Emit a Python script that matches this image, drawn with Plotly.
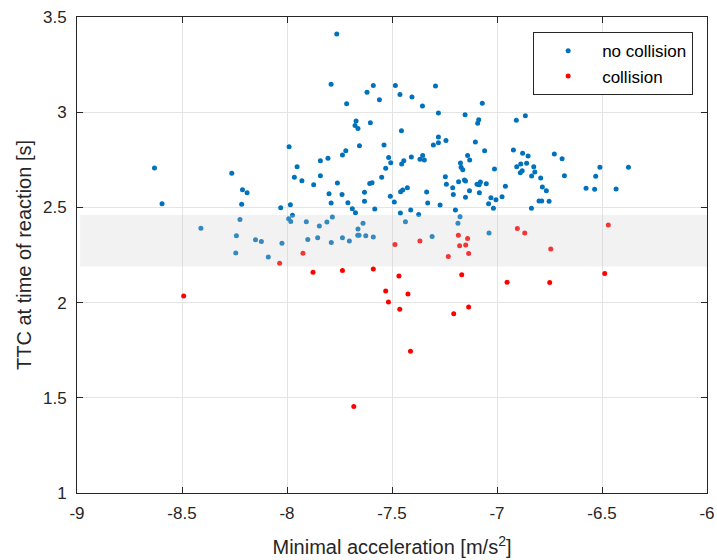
import plotly.graph_objects as go

blue_x = [-8.631, -8.263, -7.990, -7.952, -7.965, -7.763, -7.790, -7.589, -7.619, -7.560,
          -7.716, -7.484, -7.462, -7.405, -7.293, -7.355, -7.279, -7.070, -7.152, -7.087,
          -7.092, -7.671, -7.676, -7.662, -7.603, -7.455, -7.279, -7.279, -7.243, -7.303,
          -7.103, -7.059, -7.655, -7.538, -7.720, -7.736, -7.805, -7.841, -7.841, -7.929,
          -7.516, -7.506, -7.530, -7.549, -7.454, -7.444, -7.408, -7.354, -7.367, -7.346,
          -7.246, -7.174, -7.171, -7.163, -7.140, -7.130, -7.155, -7.012, -6.908, -6.865,
          -6.922, -6.878, -6.852, -6.727, -6.690, -6.906, -6.887, -6.859, -6.825, -6.820,
          -6.880, -6.889, -6.835, -6.792, -6.679, -6.530, -6.510, -6.374, -8.212, -8.190,
          -8.595, -8.216, -8.030, -7.984, -7.974, -7.992, -7.982, -8.224, -8.410, -8.241,
          -8.150, -8.122, -8.024, -8.244, -8.089, -7.873, -7.760, -7.800, -7.738, -7.790,
          -7.710, -7.689, -7.674, -7.631, -7.631, -7.606, -7.595, -7.582, -7.508, -7.489,
          -7.459, -7.449, -7.427, -7.460, -7.411, -7.373, -7.335, -7.330, -7.271, -7.241,
          -7.211, -7.183, -7.150, -7.208, -7.131, -7.150, -7.095, -7.085, -7.079, -7.051,
          -7.084, -7.029, -7.005, -7.040, -7.017, -7.198, -7.176, -7.186, -7.038, -7.436,
          -7.309, -7.908, -7.846, -7.810, -7.784, -7.901, -7.854, -7.789, -7.736, -7.703,
          -7.662, -7.638, -7.663, -7.657, -7.625, -7.589, -6.960, -6.976, -6.784, -6.765,
          -6.800, -6.787, -6.752, -6.836, -6.576, -6.535, -6.433]
blue_y = [2.707, 2.680, 2.819, 2.714, 2.659, 3.411, 3.147, 3.140, 3.105, 3.065,
          3.045, 3.140, 3.093, 3.080, 3.138, 3.033, 2.996, 3.047, 2.986, 2.961,
          2.942, 2.954, 2.930, 2.914, 2.945, 2.902, 2.870, 2.840, 2.851, 2.828,
          2.844, 2.798, 2.824, 2.828, 2.798, 2.775, 2.758, 2.745, 2.666, 2.640,
          2.762, 2.735, 2.705, 2.659, 2.728, 2.745, 2.765, 2.772, 2.753, 2.749,
          2.661, 2.733, 2.711, 2.698, 2.772, 2.749, 2.644, 2.702, 2.958, 2.981,
          2.802, 2.784, 2.770, 2.781, 2.756, 2.714, 2.728, 2.732, 2.714, 2.686,
          2.693, 2.682, 2.665, 2.654, 2.666, 2.663, 2.711, 2.711, 2.593, 2.577,
          2.519, 2.516, 2.498, 2.514, 2.459, 2.440, 2.426, 2.437, 2.391, 2.351,
          2.330, 2.321, 2.312, 2.261, 2.240, 2.619, 2.628, 2.572, 2.568, 2.523,
          2.524, 2.493, 2.472, 2.579, 2.532, 2.626, 2.629, 2.491, 2.559, 2.529,
          2.582, 2.591, 2.603, 2.470, 2.487, 2.463, 2.581, 2.523, 2.512, 2.621,
          2.603, 2.635, 2.639, 2.568, 2.587, 2.553, 2.621, 2.619, 2.633, 2.624,
          2.577, 2.551, 2.540, 2.519, 2.496, 2.487, 2.451, 2.417, 2.366, 2.424,
          2.347, 2.424, 2.402, 2.423, 2.449, 2.331, 2.340, 2.316, 2.340, 2.324,
          2.386, 2.417, 2.354, 2.354, 2.351, 2.345, 2.611, 2.556, 2.607, 2.587,
          2.533, 2.533, 2.532, 2.496, 2.600, 2.595, 2.596]

red_x = [-8.035, -8.492, -7.924, -7.876, -7.736, -7.589, -7.486, -7.367, -7.467, -7.530,
         -7.517, -7.424, -7.463, -7.184, -7.140, -7.178, -7.149, -7.135, -7.232, -7.168,
         -7.135, -7.206, -6.903, -6.868, -6.744, -6.470, -6.952, -6.749, -6.487, -7.412,
         -7.682]
red_y = [2.207, 2.035, 2.259, 2.159, 2.168, 2.177, 2.305, 2.323, 2.140, 2.061,
         2.003, 2.045, 1.965, 2.354, 2.337, 2.298, 2.302, 2.258, 2.242, 2.146,
         1.977, 1.942, 2.389, 2.366, 2.281, 2.408, 2.107, 2.105, 2.153, 1.744,
         1.454]

band_y = [2.19, 2.46]
x_ticks = [-9, -8.5, -8, -7.5, -7, -6.5, -6]
y_ticks = [1, 1.5, 2, 2.5, 3, 3.5]

FONT = "Liberation Sans, Arial, sans-serif"
AX = "#262626"

fig = go.Figure()
fig.add_trace(go.Scatter(x=blue_x, y=blue_y, mode="markers", name="no collision",
                         marker=dict(color="#0072BD", size=5)))
fig.add_trace(go.Scatter(x=red_x, y=red_y, mode="markers", name="collision",
                         marker=dict(color="#FF0000", size=5)))

fig.add_shape(type="rect", xref="x", yref="y", x0=-8.985, x1=-6.0,
              y0=band_y[0], y1=band_y[1], layer="above",
              fillcolor="rgba(204,204,204,0.26)", line=dict(width=0))

axis_common = dict(showline=True, linecolor=AX, linewidth=1, mirror="allticks",
                   ticks="inside", ticklen=6, tickcolor=AX, showgrid=True,
                   gridcolor="#e4e4e4", gridwidth=1, zeroline=False,
                   ticklabeloverflow="allow",
                   tickfont=dict(family=FONT, size=17, color=AX))

fig.update_xaxes(range=[-9, -6], tickvals=x_ticks, ticktext=[f"{v:g}" for v in x_ticks],
                 ticklabelstandoff=5,
                 title=dict(text="Minimal acceleration [m/s<sup>2</sup>]",
                            font=dict(family=FONT, size=20, color=AX), standoff=17),
                 **axis_common)
fig.update_yaxes(range=[1, 3.5], tickvals=y_ticks, ticktext=[f"{v:g}" for v in y_ticks],
                 ticklabelstandoff=6,
                 title=dict(text="TTC at time of reaction [s]",
                            font=dict(family=FONT, size=20, color=AX), standoff=5),
                 **axis_common)

fig.update_layout(
    width=717, height=560,
    margin=dict(l=77, r=10, t=17, b=67, autoexpand=False),
    plot_bgcolor="white", paper_bgcolor="white",
    font=dict(family=FONT, size=17, color=AX),
    legend=dict(x=0.978, y=0.968, xanchor="right", yanchor="top",
                bgcolor="white", bordercolor=AX, borderwidth=1,
                font=dict(family=FONT, size=17, color="#000000"),
                itemwidth=58, tracegroupgap=0),
    showlegend=True,
    hovermode=False,
)

fig.write_html("out.html", config={"displayModeBar": False},
               post_script="document.body.style.margin='0';document.body.style.overflow='hidden';")
